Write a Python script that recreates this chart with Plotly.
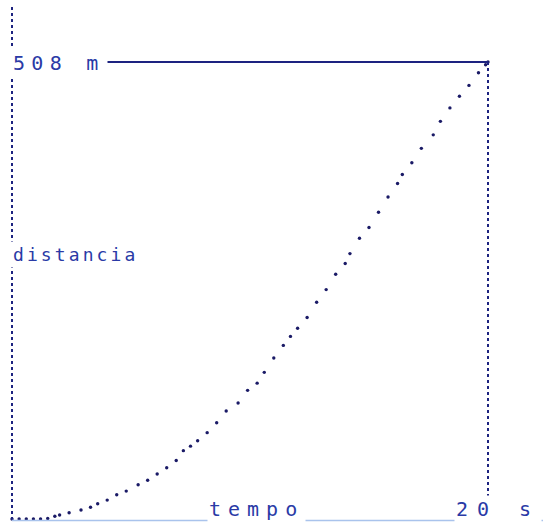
import plotly.graph_objects as go

# ---- data ----
tempo_s = [0.0, 0.3, 0.6, 0.9, 1.2, 1.5, 1.8, 2.0, 2.4, 2.9, 3.3, 3.6, 4.0, 4.4, 4.8,
           5.3, 5.7, 6.1, 6.5, 6.9, 7.2, 7.5, 7.8, 8.2, 8.6, 9.0, 9.5, 9.9, 10.3, 10.6,
           11.0, 11.4, 11.7, 12.0, 12.4, 12.8, 13.2, 13.6, 14.0, 14.2, 14.6, 15.0, 15.4,
           15.8, 16.2, 16.4, 16.8, 17.2, 17.7, 18.0, 18.4, 18.8, 19.2, 19.6, 19.9, 20.0]
distancia_m = [0, 0, 0, 0, 0, 0.5, 3, 4.5, 7, 10, 13, 17, 21, 27, 31,
               38, 43, 50, 57, 65, 76, 81, 87, 96, 107, 120, 129, 143, 151, 163,
               179, 193, 203, 212, 224, 241, 255, 272, 284, 295, 312, 324, 341,
               358, 373, 383, 396, 412, 427, 442, 457, 470, 482, 496, 505, 508]

t_max = 20
d_max = 508
x_title = "tempo"
y_title = "distancia"
top_label = f"{d_max} m"
right_label = f"{t_max} s"

# ---- layout calibration (pixels) ----
W, H = 543, 522
x0_px, x1_px = 12, 488
y0_px, y1_px = 519, 62
sx = (x1_px - x0_px) / t_max
sy = (y0_px - y1_px) / d_max
xr = [-x0_px / sx, (W - x0_px) / sx]
yr = [-(H - y0_px) / sy, y0_px / sy]

ink = "#1d2380"
dot = "#1a1a66"
txt = "#2a3aa6"
faint = "#a9c3ec"
font_family = "DejaVu Sans Mono"

fig = go.Figure()
fig.add_trace(go.Scatter(x=tempo_s, y=distancia_m, mode="markers",
                         marker=dict(size=3.4, color=dot), hoverinfo="skip"))

shapes = [
    # left axis (dotted)
    dict(type="line", xref="x", yref="paper", x0=0, x1=0, y0=0.004, y1=0.99,
         line=dict(color=ink, width=2, dash="dot")),
    # top line at max distance
    dict(type="line", xref="x", yref="y", x0=0, x1=t_max, y0=d_max, y1=d_max,
         line=dict(color=ink, width=2)),
    # right line at max time (dotted)
    dict(type="line", xref="x", yref="paper", x0=t_max, x1=t_max, y0=0.025,
         y1=1 - y1_px / H, line=dict(color=ink, width=2, dash="dot")),
    # bottom axis (faint)
    dict(type="line", xref="paper", yref="paper", x0=12 / W, x1=1, y0=1.5 / H, y1=1.5 / H,
         line=dict(color=faint, width=1.5)),
]

def ann(text, xpx, ypx, size, spacing, yanchor="middle", pad=2):
    return dict(
        text=f'<span style="letter-spacing:{spacing}px">{text}</span>',
        xref="paper", yref="paper", x=xpx / W, y=1 - ypx / H,
        xanchor="left", yanchor=yanchor, showarrow=False,
        font=dict(family=font_family, size=size, color=txt),
        bgcolor="white", borderpad=pad,
    )

annotations = [
    ann(top_label, 10, 63, 20, 6.3),
    ann(y_title, 10, 254, 18, 3.1),
    ann(x_title, 207, 509, 20, 7, pad=1),
    ann(right_label, 454, 509, 20, 9, pad=1),
]

fig.update_layout(
    width=W, height=H, autosize=False,
    margin=dict(l=0, r=0, t=0, b=0),
    paper_bgcolor="white", plot_bgcolor="white",
    showlegend=False,
    xaxis=dict(range=xr, visible=False, fixedrange=True),
    yaxis=dict(range=yr, visible=False, fixedrange=True),
    shapes=shapes, annotations=annotations,
)

fig.write_html("out.html", config={"displayModeBar": False},
               post_script="document.body.style.margin='0';document.body.style.overflow='hidden';")
